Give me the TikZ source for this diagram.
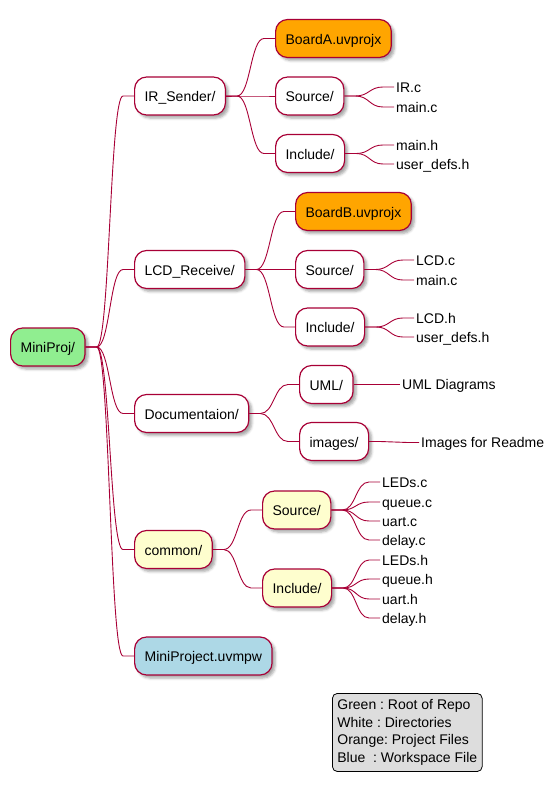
\documentclass[tikz,border=0pt]{standalone}
\usepackage{fontspec}
\setmainfont{Liberation Sans}
\usetikzlibrary{calc,shadows.blur}
\frenchspacing

\definecolor{edgecol}{HTML}{A80036}
\definecolor{rootfill}{HTML}{90EE90}
\definecolor{projfill}{HTML}{FFA500}
\definecolor{commfill}{HTML}{FEFECE}
\definecolor{wsfill}{HTML}{ADD8E6}
\definecolor{legfill}{HTML}{DDDDDD}

\tikzset{
  mmfont/.style={font=\fontsize{14}{17.7}\selectfont},
  box/.style={mmfont, draw=edgecol, line width=1.2pt, rounded corners=12pt,
    fill=white, minimum height=38pt, inner xsep=10pt, inner ysep=0pt,
    text height=12pt, text depth=1pt, anchor=west,
    blur shadow={shadow xshift=3pt, shadow yshift=-3pt,
      shadow blur radius=2.5pt, shadow opacity=35}},
  leaf/.style={mmfont, anchor=west, inner xsep=2pt, inner ysep=0pt,
    text height=10pt, text depth=0pt},
  edge/.style={draw=edgecol, line width=0.9pt},
  legendbox/.style={mmfont, draw=black, line width=0.8pt, fill=legfill,
    rounded corners=5pt, align=left, anchor=north west,
    inner xsep=5pt, inner ysep=6pt},
}

% connector: short lead, S-curve, short tail
\newcommand\branch[2]{%
  \draw[edge] let \p1=(#1.east), \p2=(#2.west) in
    (\p1) -- (\x1+11pt,\y1)
    .. controls ({(\x1+\x2)/2},\y1) and ({(\x1+\x2)/2},\y2) ..
    (\x2-11pt,\y2) -- (\p2);}

\begin{document}
\begin{tikzpicture}[x=1pt,y=-1pt]
\useasboundingbox (0,0) rectangle (555,795);

% root
\node[box, fill=rootfill] (root) at (10,347) {MiniProj/};

% IR_Sender
\node[box] (ir) at (134,96) {IR\_Sender/};
\node[box, fill=projfill] (boardA) at (275,38.5) {BoardA.uvprojx};
\node[box] (irsrc) at (275,96) {Source/};
\node[box] (irinc) at (275,153.5) {Include/};
\node[leaf] (irc) at (394,87) {IR.c};
\node[leaf] (irmainc) at (394,107) {main.c};
\node[leaf] (irmainh) at (394,145) {main.h};
\node[leaf] (irdefs) at (394,164) {user\_defs.h};

% LCD_Receive
\node[box] (lcd) at (134,269.5) {LCD\_Receive/};
\node[box, fill=projfill] (boardB) at (295,211.5) {BoardB.uvprojx};
\node[box] (lcdsrc) at (295,269.5) {Source/};
\node[box] (lcdinc) at (295,327) {Include/};
\node[leaf] (lcdc) at (414,260) {LCD.c};
\node[leaf] (lcdmainc) at (414,280) {main.c};
\node[leaf] (lcdh) at (414,318) {LCD.h};
\node[leaf] (lcddefs) at (414,337) {user\_defs.h};

% Documentation
\node[box] (doc) at (134,413.5) {Documentaion/};
\node[box] (uml) at (299,384.5) {UML/};
\node[box] (img) at (299,441.5) {images/};
\node[leaf] (umltxt) at (400,384.5) {UML Diagrams};
\node[leaf] (imgtxt) at (419,442.5) {Images for Readme};

% common
\node[box, fill=commfill] (common) at (134,549.5) {common/};
\node[box, fill=commfill] (csrc) at (262,510) {Source/};
\node[box, fill=commfill] (cinc) at (262,588) {Include/};
\node[leaf] (ledsc) at (380,482) {LEDs.c};
\node[leaf] (queuec) at (380,502) {queue.c};
\node[leaf] (uartc) at (380,521) {uart.c};
\node[leaf] (delayc) at (380,540) {delay.c};
\node[leaf] (ledsh) at (380,560) {LEDs.h};
\node[leaf] (queueh) at (380,579) {queue.h};
\node[leaf] (uarth) at (380,599) {uart.h};
\node[leaf] (delayh) at (380,618) {delay.h};

% workspace
\node[box, fill=wsfill] (ws) at (134,656) {MiniProject.uvmpw};

% connectors
\foreach \c in {ir,lcd,doc,common,ws} {\branch{root}{\c}}
\foreach \c in {boardA,irsrc,irinc} {\branch{ir}{\c}}
\foreach \c in {irc,irmainc} {\branch{irsrc}{\c}}
\foreach \c in {irmainh,irdefs} {\branch{irinc}{\c}}
\foreach \c in {boardB,lcdsrc,lcdinc} {\branch{lcd}{\c}}
\foreach \c in {lcdc,lcdmainc} {\branch{lcdsrc}{\c}}
\foreach \c in {lcdh,lcddefs} {\branch{lcdinc}{\c}}
\foreach \c in {uml,img} {\branch{doc}{\c}}
\branch{uml}{umltxt}
\branch{img}{imgtxt}
\foreach \c in {csrc,cinc} {\branch{common}{\c}}
\foreach \c in {ledsc,queuec,uartc,delayc} {\branch{csrc}{\c}}
\foreach \c in {ledsh,queueh,uarth,delayh} {\branch{cinc}{\c}}

% legend
\node[legendbox] (legend) at (332,693)
  {Green : Root of Repo\\White : Directories\\Orange: Project Files\\Blue\ \ : Workspace File};
\end{tikzpicture}
\end{document}
